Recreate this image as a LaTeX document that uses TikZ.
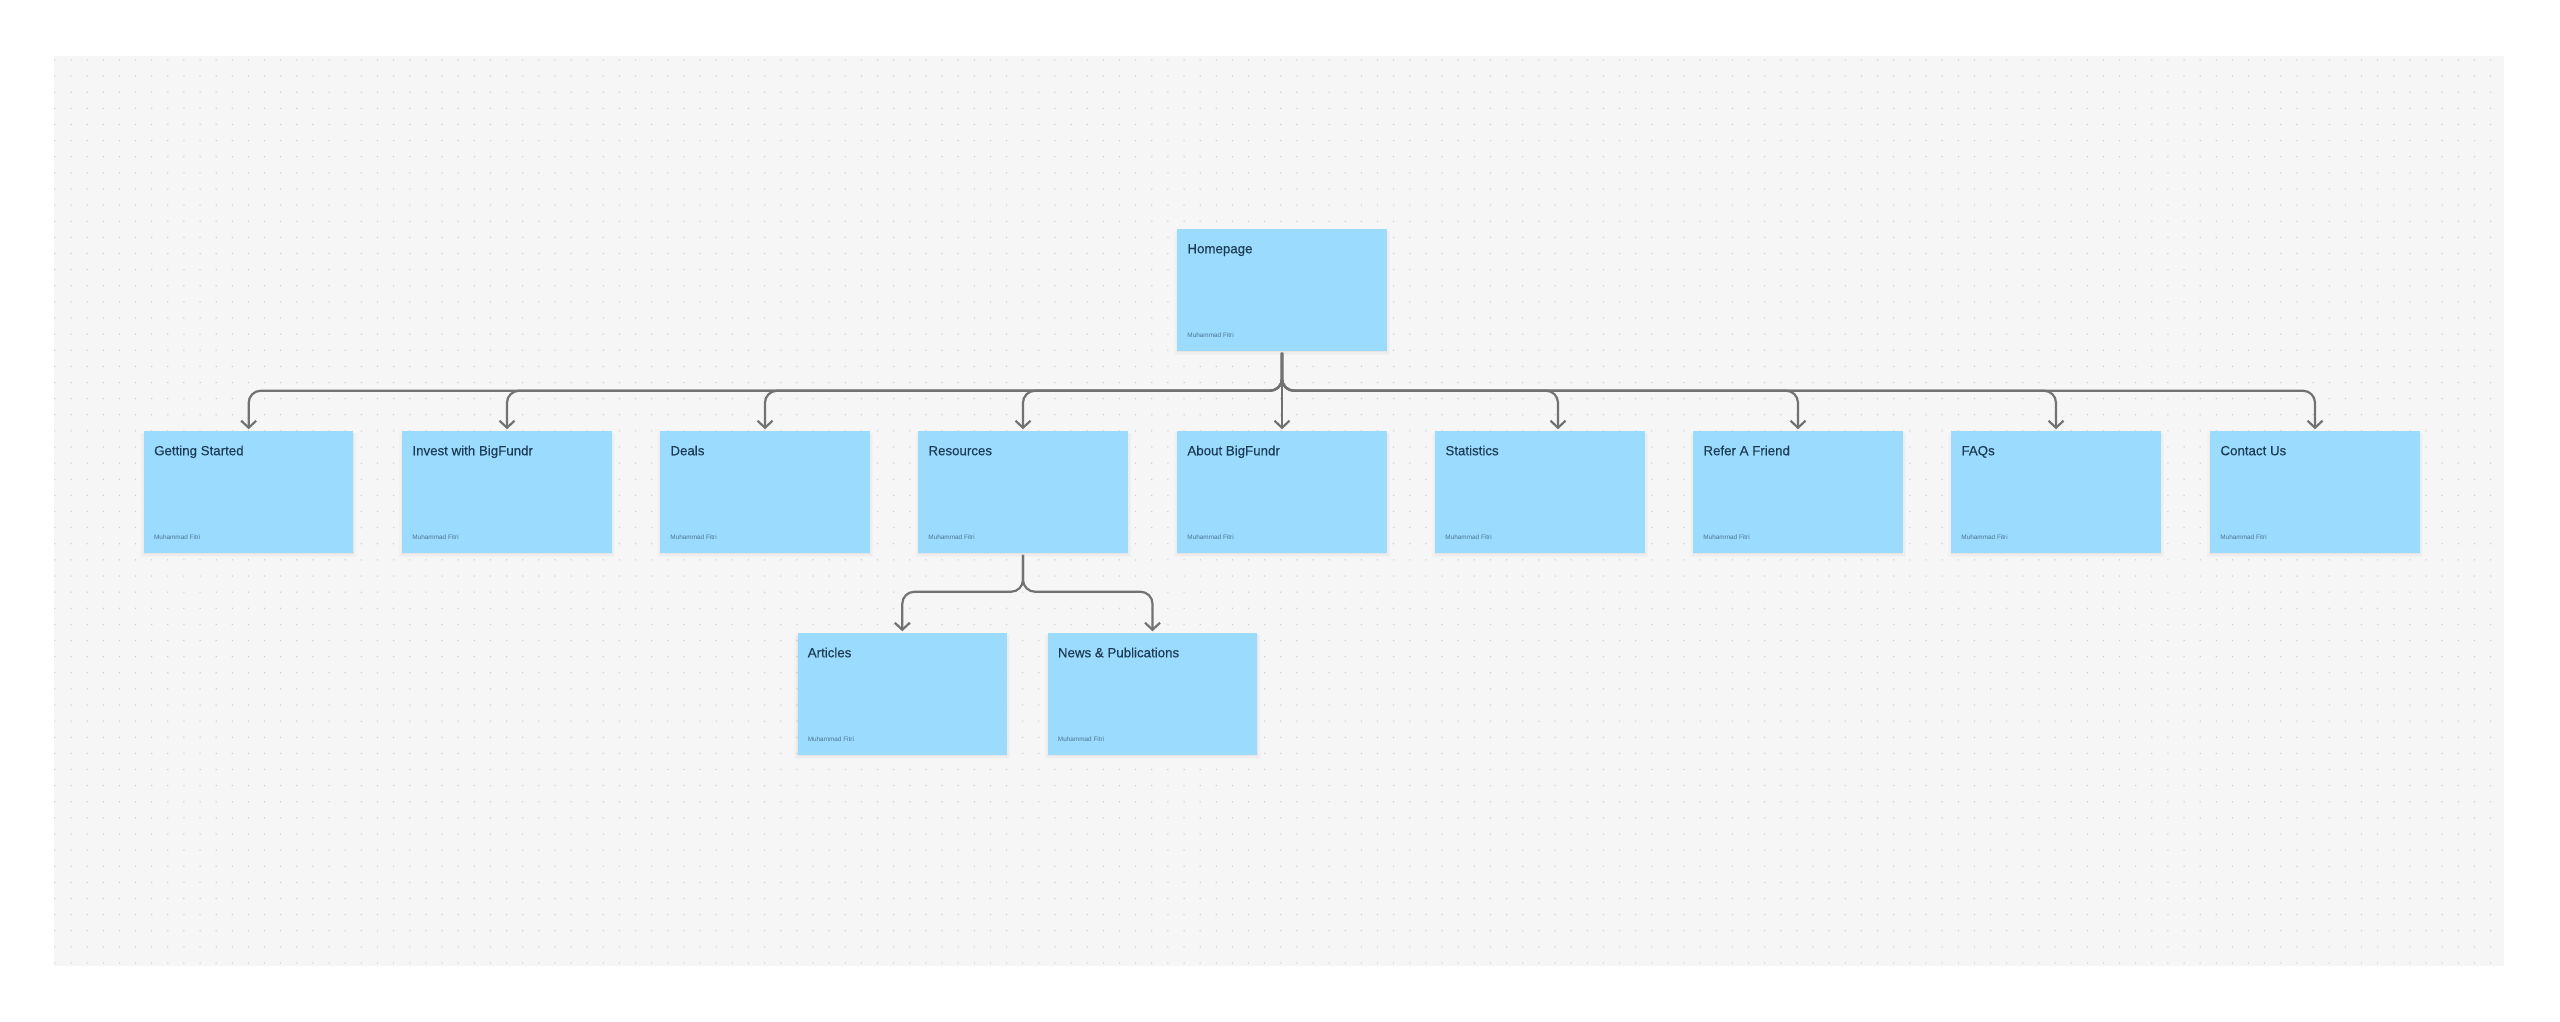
\documentclass[tikz,border=0pt]{standalone}
\usepackage{fontspec}
\setmainfont{Liberation Sans}
\newfontfamily\titlefont[FakeBold=0.2]{Liberation Sans}
\usetikzlibrary{arrows.meta}
\definecolor{canvasbg}{HTML}{F6F6F6}
\definecolor{griddot}{HTML}{CFCFCF}
\definecolor{cardfill}{HTML}{9BDBFD}
\definecolor{titleink}{HTML}{1C3B55}
\definecolor{byink}{HTML}{4A7593}
\definecolor{connink}{HTML}{727272}
\tikzset{
  card/.style={rectangle,fill=cardfill,minimum width=209.5pt,minimum height=121.5pt,inner sep=0pt,outer sep=0pt},
  cardtitle/.style={anchor=base west,inner sep=0pt,text=titleink,font=\titlefont\fontsize{13.3}{16}\selectfont},
  cardby/.style={anchor=base west,inner sep=0pt,text=byink,font=\fontsize{6.4}{8}\selectfont},
  conn/.style={draw=connink,line width=2.2pt,rounded corners=12pt,shorten <=2pt,shorten >=2pt,
    -{Straight Barb[length=7pt,width=15pt,line width=2.2pt]}},
  dotrow/.style={griddot,line width=1.5pt,line cap=round,dash pattern=on 0pt off 16.13pt},
}
\newcommand{\cardat}[4]{%
  \foreach \sp/\op in {4/.014,2.5/.02,1/.03}{%
    \fill[black,opacity=\op] (#2-105-\sp+1,#3-61+2) rectangle (#2+105+\sp-1,#3+61+\sp);
  }
  \node[card] (#1) at (#2,#3) {};
  \node[cardtitle] (#1title) at ([shift={(10,24)}]#1.north west) {#4};
  \node[cardby] (#1by) at ([shift={(10,-13)}]#1.south west) {Muhammad Fitri};
}
\begin{document}
\begin{tikzpicture}[x=1pt,y=-1pt]
\useasboundingbox (0,0) rectangle (2560,1022);
\fill[white] (0,0) rectangle (2560,1022);
\fill[canvasbg] (54,56) rectangle (2504,966);
\foreach \j in {0,...,56}{
  \draw[dotrow] (54.9,{60+16.125*\j}) -- (2500,{60+16.125*\j});
}
\cardat{home}{1282}{290}{Homepage}
\cardat{gs}{248.7}{492}{Getting Started}
\cardat{invest}{507}{492}{Invest with BigFundr}
\cardat{deals}{765}{492}{Deals}
\cardat{res}{1023}{492}{Resources}
\cardat{about}{1282}{492}{About BigFundr}
\cardat{stats}{1540}{492}{Statistics}
\cardat{refer}{1798}{492}{Refer A Friend}
\cardat{faqs}{2056}{492}{FAQs}
\cardat{contact}{2315}{492}{Contact Us}
\cardat{art}{902.3}{694}{Articles}
\cardat{news}{1152.5}{694}{News \& Publications}
\coordinate (bus) at ([yshift=-40pt]home.south);
\coordinate (subbus) at ([yshift=-39pt]res.south);
\foreach \t in {gs,invest,deals,res,refer,faqs,contact}{
  \draw[conn] (home.south) -- (bus) -| (\t.north);
}
\draw[conn] (home.south) -- (bus) -| ([xshift=18pt]stats.north);
\draw[conn,rounded corners=0pt] (home.south) -- (about.north);
\foreach \t in {art,news}{
  \draw[conn] (res.south) -- (subbus) -| (\t.north);
}
\end{tikzpicture}
\end{document}
